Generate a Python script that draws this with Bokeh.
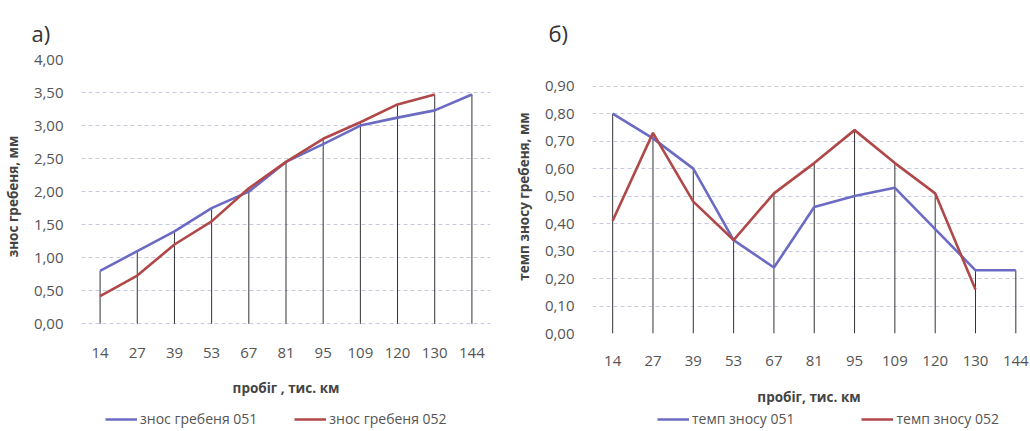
from bokeh.plotting import figure
from bokeh.layouts import row, column
from bokeh.models import (Range1d, FixedTicker, CustomJSTickFormatter, Legend,
                          LegendItem)
from bokeh.embed import file_html
from bokeh.resources import INLINE

# ---- data ----
mileage = ["14", "27", "39", "53", "67", "81", "95", "109", "120", "130", "144"]

wear_051 = [0.80, 1.10, 1.40, 1.75, 2.00, 2.45, 2.72, 3.00, 3.12, 3.23, 3.47]
wear_052 = [0.42, 0.73, 1.20, 1.55, 2.05, 2.45, 2.80, 3.05, 3.32, 3.47, None]

rate_051 = [0.80, 0.71, 0.60, 0.34, 0.24, 0.46, 0.50, 0.53, 0.38, 0.23, 0.23]
rate_052 = [0.41, 0.73, 0.48, 0.34, 0.51, 0.62, 0.74, 0.62, 0.51, 0.16, None]

y_ticks_a = [0, 0.5, 1.0, 1.5, 2.0, 2.5, 3.0, 3.5, 4.0]
y_ticks_b = [0, 0.1, 0.2, 0.3, 0.4, 0.5, 0.6, 0.7, 0.8, 0.9]

BLUE = "#6b6bc4"
RED = "#b0484a"
TXT = "#555555"
FONT = "Open Sans"

idx = list(range(len(mileage)))
labels_map = {i: m for i, m in enumerate(mileage)}
comma_fmt = CustomJSTickFormatter(code="return tick.toFixed(2).replace('.', ',');")


def series_xy(vals):
    xs = [i for i, v in zip(idx, vals) if v is not None]
    ys = [v for v in vals if v is not None]
    return xs, ys


def make_chart(width, right, xend, ystart, yend, yticks,
               s1, s2, ylabel, xlabel, letter, letter_off,
               xl_standoff, xt_standoff):
    p = figure(width=width, height=410,
               x_range=Range1d(-0.5, xend), y_range=Range1d(ystart, yend),
               output_backend="svg", toolbar_location=None,
               min_border_left=81, min_border_top=59,
               min_border_right=right, min_border_bottom=77)
    p.outline_line_color = None
    p.background_fill_color = "white"
    p.border_fill_color = "white"

    p.title.text = letter
    p.title.text_font = FONT
    p.title.text_font_size = "22px"
    p.title.text_font_style = "normal"
    p.title.text_color = "#333333"
    p.title.align = "left"
    p.title.offset = letter_off
    p.title.standoff = 24

    p.xaxis.ticker = FixedTicker(ticks=idx)
    p.xaxis.major_label_overrides = labels_map
    p.yaxis.ticker = FixedTicker(ticks=yticks)
    p.yaxis.formatter = comma_fmt
    for ax in (p.xaxis[0], p.yaxis[0]):
        ax.axis_line_color = None
        ax.major_tick_line_color = None
        ax.minor_tick_line_color = None
        ax.major_label_text_font = FONT
        ax.major_label_text_font_size = "15px"
        ax.major_label_text_color = TXT
        ax.axis_label_text_font = FONT
        ax.axis_label_text_font_size = "13.5px"
        ax.axis_label_text_font_style = "bold"
        ax.axis_label_text_color = "#444444"
    p.xaxis.major_label_standoff = xl_standoff
    p.xaxis.axis_label_standoff = xt_standoff
    p.yaxis.major_label_standoff = 12
    p.yaxis.axis_label_standoff = 9
    p.xaxis.axis_label = xlabel
    p.yaxis.axis_label = ylabel

    p.xgrid.grid_line_color = None
    p.ygrid.ticker = FixedTicker(ticks=yticks)
    p.ygrid.grid_line_color = "#c8cbe0"
    p.ygrid.grid_line_dash = "4 3"
    p.ygrid.grid_line_width = 1

    # drop lines from the higher series down to zero
    tops = [max(v for v in (a, b) if v is not None) for a, b in zip(s1, s2)]
    p.segment(x0=idx, y0=[0] * len(idx), x1=idx, y1=tops,
              line_color="#333333", line_width=1)

    x1, y1 = series_xy(s1)
    x2, y2 = series_xy(s2)
    p.line(x1, y1, line_color=BLUE, line_width=2.6)
    p.line(x2, y2, line_color=RED, line_width=2.6)
    return p


def make_legend(width, right, s1, s2, names, leg_x, leg_spacing):
    # legend strip below each chart; its proxy lines lie outside the visible range
    q = figure(width=width, height=20, x_range=Range1d(100, 101), y_range=Range1d(100, 101),
               x_axis_type=None, y_axis_type=None,
               output_backend="svg", toolbar_location=None,
               min_border_left=81, min_border_right=right,
               min_border_top=0, min_border_bottom=0)
    q.outline_line_color = None
    q.grid.visible = False
    x1, y1 = series_xy(s1)
    x2, y2 = series_xy(s2)
    r1 = q.line(x1, y1, line_color=BLUE, line_width=2.6)
    r2 = q.line(x2, y2, line_color=RED, line_width=2.6)
    leg = Legend(items=[LegendItem(label=names[0], renderers=[r1]),
                        LegendItem(label=names[1], renderers=[r2])],
                 location=(leg_x, 2), orientation="horizontal",
                 glyph_width=32, glyph_height=16, label_standoff=3,
                 label_height=16,
                 spacing=leg_spacing, padding=0, margin=0,
                 border_line_alpha=0, background_fill_alpha=0,
                 label_text_font=FONT, label_text_font_size="14px",
                 label_text_color=TXT)
    q.add_layout(leg, "center")
    return q


# chart a: 4,00 at top of frame, 0,00 ~10px above the frame bottom
pa = make_chart(width=511, right=21, xend=10.5,
                ystart=-0.147, yend=4.0, yticks=y_ticks_a,
                s1=wear_051, s2=wear_052,
                ylabel="знос гребеня, мм", xlabel="пробіг , тис. км",
                letter="а)", letter_off=-50,
                xl_standoff=8, xt_standoff=18)
la = make_legend(511, 21, wear_051, wear_052,
                 ["знос гребеня 051", "знос гребеня 052"], 24, 37)

# chart b: 0,00 at bottom of frame, 0,90 ~27px below the frame top
pb = make_chart(width=518, right=4, xend=10.24,
                ystart=0.0, yend=0.997, yticks=y_ticks_b,
                s1=rate_051, s2=rate_052,
                ylabel="темп зносу гребеня, мм", xlabel="пробіг, тис. км",
                letter="б)", letter_off=-44,
                xl_standoff=16, xt_standoff=19)
lb = make_legend(518, 4, rate_051, rate_052,
                 ["темп зносу 051", "темп зносу 052"], 65, 67)

layout = row(column(pa, la), column(pb, lb))
open("out.html", "w").write(file_html(layout, INLINE))
